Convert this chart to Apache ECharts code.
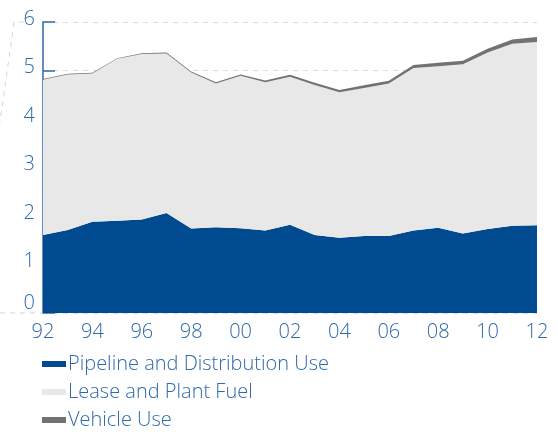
<!DOCTYPE html>
<html>
<head>
<meta charset="utf-8">
<script src="https://cdn.jsdelivr.net/npm/echarts@6/dist/echarts.min.js"></script>
<style>
  html, body { margin: 0; padding: 0; background: #ffffff; }
  #chart { width: 558px; height: 432px; }
</style>
</head>
<body>
<div id="chart"></div>
<script>
// Years shown on the category axis (two-digit labels)
const years = ['92','93','94','95','96','97','98','99','00','01','02','03','04','05','06','07','08','09','10','11','12'];

// Stacked consumption components
const pipelineUse = [1.61,1.71,1.88,1.90,1.93,2.06,1.74,1.77,1.75,1.70,1.82,1.61,1.55,1.59,1.59,1.70,1.76,1.64,1.73,1.80,1.81];
const leasePlantFuel = [3.20,3.21,3.06,3.34,3.41,3.29,3.22,2.96,3.14,3.06,3.05,3.09,3.00,3.05,3.14,3.35,3.33,3.49,3.64,3.75,3.78];
const vehicleUse = [0.015,0.015,0.015,0.015,0.015,0.02,0.02,0.03,0.03,0.035,0.04,0.05,0.05,0.055,0.06,0.065,0.07,0.07,0.08,0.09,0.10];

const yTicks = [0, 1, 2, 3, 4, 5, 6];

const seriesNames = ['Pipeline and Distribution Use', 'Lease and Plant Fuel', 'Vehicle Use'];
const seriesColors = ['#004b90', '#e8e8e8', '#727272'];

const BLUE_TEXT = '#2f6aa9';
const FONT = '"Open Sans", Lato, sans-serif';

const chart = echarts.init(document.getElementById('chart'), null, { renderer: 'canvas' });

function areaSeries(name, data, color) {
  return {
    name: name,
    type: 'line',
    stack: 'total',
    data: data,
    symbol: 'none',
    smooth: false,
    lineStyle: { width: 0, color: color },
    areaStyle: { color: color, opacity: 1 },
    itemStyle: { color: color },
    emphasis: { disabled: true }
  };
}

// One legend block per row so the three entries stack vertically
const legends = seriesNames.map(function (name, i) {
  return {
    orient: 'vertical',
    left: 42,
    top: 353 + i * 28,
    icon: 'rect',
    itemWidth: 24,
    itemHeight: 6,
    padding: 0,
    selectedMode: false,
    textStyle: {
      color: BLUE_TEXT,
      fontFamily: FONT,
      fontWeight: 300,
      fontSize: 20,
      lineHeight: 22,
      padding: [0, 0, 0, -3]
    },
    data: [name]
  };
});

chart.setOption({
  animation: false,
  grid: { left: 43, right: 21, top: 22, bottom: 119, containLabel: false },
  xAxis: {
    type: 'category',
    data: years,
    boundaryGap: false,
    axisLine: { show: false },
    axisTick: { show: false },
    axisLabel: {
      interval: 1,
      color: BLUE_TEXT,
      fontFamily: FONT,
      fontWeight: 300,
      fontSize: 20,
      margin: 9
    },
    splitLine: { show: false }
  },
  yAxis: {
    type: 'value',
    min: yTicks[0],
    max: yTicks[yTicks.length - 1],
    interval: 1,
    axisLine: { show: true, lineStyle: { color: BLUE_TEXT, width: 1.5 } },
    axisTick: { show: true, inside: true, length: 12, lineStyle: { color: BLUE_TEXT, width: 1.5 } },
    axisLabel: {
      color: BLUE_TEXT,
      fontFamily: FONT,
      fontWeight: 300,
      fontSize: 20,
      margin: 8,
      formatter: function (v) {
        return v === 0 ? '{z|' + v + '}' : '{n|' + v + '}';
      },
      rich: {
        n: { color: BLUE_TEXT, fontFamily: FONT, fontWeight: 300, fontSize: 20, padding: [0, 0, 6, 0] },
        z: { color: BLUE_TEXT, fontFamily: FONT, fontWeight: 300, fontSize: 20, padding: [0, 0, 20, 0] }
      }
    },
    splitLine: {
      show: true,
      lineStyle: { color: '#dcdcdc', type: [5, 5], width: 1 }
    }
  },
  legend: legends,
  series: seriesNames.map(function (name, i) {
    return areaSeries(name, [pipelineUse, leasePlantFuel, vehicleUse][i], seriesColors[i]);
  }),
  graphic: [
    {
      type: 'polyline',
      silent: true,
      shape: { points: [[24, 22], [14, 22], [0, 122]] },
      style: { stroke: '#d4d4d4', lineWidth: 1, lineDash: [5, 5], fill: null }
    },
    {
      type: 'line',
      silent: true,
      shape: { x1: 0, y1: 313, x2: 42, y2: 313 },
      style: { stroke: '#d4d4d4', lineWidth: 1, lineDash: [5, 5] }
    }
  ]
});
</script>
</body>
</html>
